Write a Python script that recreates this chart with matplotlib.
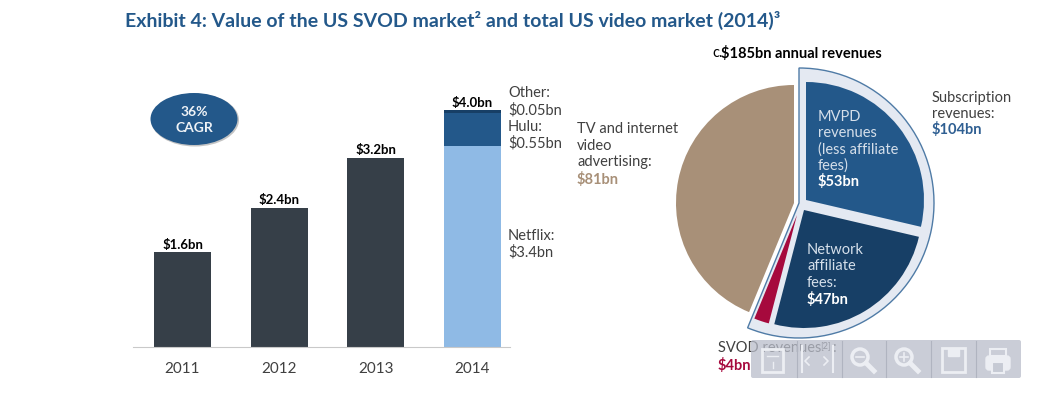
import matplotlib
matplotlib.use('Agg')
import matplotlib.pyplot as plt
from matplotlib.patches import Circle, Ellipse, FancyBboxPatch, Rectangle

plt.rcParams['font.family'] = ['Lato', 'DejaVu Sans']
plt.rcParams['mathtext.default'] = 'regular'

# data
years = ['2011', '2012', '2013', '2014']
totals = [1.6, 2.35, 3.2, 4.0]
total_labels = ['$1.6bn', '$2.4bn', '$3.2bn', '$4.0bn']
netflix = 3.4
hulu = 0.55
other = 0.05
pie_values = [53, 47, 4, 81]
subscription_values = [104, 81]

BAR = '#363f48'
LIGHT = '#8fbae5'
BLUE = '#23588a'
NAVY = '#173f66'
RED = '#a6093d'
TAN = '#a89078'
GREY = '#404040'
PALE = '#d5dfea'

W, H = 1051, 393
fig = plt.figure(figsize=(W / 100, H / 100), dpi=100)


def Y(py):
    return H - py


# bar chart, left
bx = fig.add_axes([133 / W, (H - 347) / H, 377 / W, 257 / H])
bx.bar(range(3), totals[:3], width=0.59, color=BAR)
bx.bar(3, netflix, width=0.59, color=LIGHT)
bx.bar(3, hulu, bottom=netflix, width=0.59, color=BLUE)
bx.bar(3, other, bottom=netflix + hulu, width=0.59, color=NAVY)
for i, v in enumerate(totals):
    bx.annotate(total_labels[i], (i, v), xytext=(0, 1), textcoords='offset points',
                ha='center', va='bottom', fontsize=9.5, fontweight='bold',
                color='black', parse_math=False)
bx.set_xlim(-0.512, 3.388)
bx.set_ylim(0, 4.34)
bx.set_xticks(range(4), years)
bx.set_yticks([])
bx.tick_params(axis='x', length=0, pad=10.5, labelsize=11, labelcolor=GREY)
for s in ['top', 'left', 'right']:
    bx.spines[s].set_visible(False)
bx.spines['bottom'].set_color('#c9c9c9')
bx.patch.set_alpha(0)

# everything else is placed in pixel coordinates
ax = fig.add_axes([0, 0, 1, 1])
ax.patch.set_alpha(0)


def one_slice(values, index, color, cx, cy, r, **kw):
    wedges, _ = ax.pie(values, colors=[color] * len(values), startangle=90,
                       counterclock=False, center=(cx, Y(cy)), radius=r, frame=True, **kw)
    for j, w in enumerate(wedges):
        w.set_visible(j == index)


one_slice(subscription_values, 0, '#e4e9f2', 799, 203, 135,
          wedgeprops={'edgecolor': '#4f7ba6', 'linewidth': 1})
one_slice(pie_values, 3, TAN, 794, 203, 118)
one_slice(pie_values, 0, BLUE, 806, 200, 118)
one_slice(pie_values, 1, NAVY, 804, 210, 118)
one_slice(pie_values, 2, RED, 797, 215, 112)

ax.set_xlim(0, W)
ax.set_ylim(0, H)
ax.set_aspect('auto')
ax.axis('off')


def label(x, py, s, color=GREY, size=10.5, weight='normal', ha='left'):
    return ax.text(x, Y(py), s, color=color, fontsize=size, fontweight=weight,
                   ha=ha, va='center', parse_math=False)


label(125, 20, 'Exhibit 4: Value of the US SVOD market² and total US video market (2014)³',
      color='#23588a', size=14, weight='bold')

# CAGR bubble
ax.add_patch(Ellipse((195, Y(120)), 88, 53, color='#c4c4c4', lw=0))
ax.add_patch(Ellipse((194, Y(119)), 87, 52, color=BLUE, lw=0))
label(194, 112, '36%', color='#eef2f6', size=10, weight='bold', ha='center')
label(194, 128, 'CAGR', color='#eef2f6', size=10, weight='bold', ha='center')

# bar annotations
for py, s in zip([93, 110, 127, 143, 236, 252],
                 ['Other:', '$0.05bn', 'Hulu:', '$0.55bn', 'Netflix:', '$3.4bn']):
    label(508, py, s)

# pie annotations
label(712, 53, 'c.', color='black', size=10.5)
label(721, 53, '$185bn annual revenues', color='black', size=10.5, weight='bold')
for py, s in zip([98, 114], ['Subscription', 'revenues:']):
    label(932, py, s)
label(932, 130, '$104bn', color='#2f5f92', weight='bold')
for py, s in zip([129, 146, 162], ['TV and internet', 'video', 'advertising:']):
    label(577, py, s)
label(577, 179, '$81bn', color=TAN, weight='bold')
for py, s in zip([117, 133, 150, 166], ['MVPD', 'revenues', '(less affiliate', 'fees)']):
    label(818, py, s, color=PALE)
label(818, 182, '$53bn', color='white', weight='bold')
for py, s in zip([250, 266, 283], ['Network', 'affiliate', 'fees:']):
    label(807, py, s, color=PALE)
label(807, 299, '$47bn', color='white', weight='bold')
label(718, 348, 'SVOD revenues', color=GREY)
label(820, 346, '[2]', color=GREY, size=6.5)
label(832, 348, ':', color=GREY)
label(718, 365, '$4bn', color=RED, weight='bold')

# viewer toolbar sitting over the picture
ax.add_patch(FancyBboxPatch((751, Y(378)), 270, 38, boxstyle='round,pad=0,rounding_size=2',
                            facecolor='#b9bdca', edgecolor='none', linewidth=0,
                            alpha=0.75, zorder=5))
for x in [797, 842, 886, 931, 976]:
    ax.plot([x, x], [Y(341), Y(377)], color='#b0b4c0', lw=0.8, zorder=6)
ICON = '#eceef3'
ax.add_patch(Rectangle((762, Y(372)), 21, 23, fill=False, edgecolor=ICON, lw=2, zorder=6))
ax.plot([767, 778], [Y(356), Y(356)], color=ICON, lw=1, zorder=6)
ax.plot([772.5, 772.5], [Y(362), Y(368)], color=ICON, lw=1, zorder=6)
ax.plot([809, 805, 809], [Y(357), Y(361), Y(365)], color=ICON, lw=1.2, zorder=6)
ax.plot([824, 828, 824], [Y(357), Y(361), Y(365)], color=ICON, lw=1.2, zorder=6)
ax.plot([802, 802], [Y(346), Y(372)], color=ICON, lw=1.5, zorder=6)
ax.plot([833, 833], [Y(346), Y(372)], color=ICON, lw=1.5, zorder=6)
for cx, plus in [(860, False), (904, True)]:
    ax.add_patch(Circle((cx, Y(357)), 8, fill=False, edgecolor=ICON, lw=2.5, zorder=6))
    ax.plot([cx + 6, cx + 14], [Y(363), Y(371)], color=ICON, lw=3.5, zorder=6)
    ax.plot([cx - 4, cx + 4], [Y(357), Y(357)], color=ICON, lw=1.2, zorder=6)
    if plus:
        ax.plot([cx, cx], [Y(353), Y(361)], color=ICON, lw=1.2, zorder=6)
ax.add_patch(Rectangle((942, Y(372)), 23, 24, fill=False, edgecolor=ICON, lw=2, zorder=6))
ax.add_patch(Rectangle((948, Y(356)), 11, 8, color=ICON, zorder=6))
ax.add_patch(FancyBboxPatch((986, Y(370)), 24, 14, boxstyle='round,pad=0,rounding_size=3',
                            color=ICON, zorder=6))
ax.add_patch(Rectangle((990, Y(356)), 16, 7, fill=False, edgecolor=ICON, lw=1.5, zorder=6))
ax.add_patch(Rectangle((992, Y(373)), 12, 11, facecolor='#c6cad4', edgecolor=ICON, lw=1.5, zorder=6))

fig.savefig('out.png', dpi=100)
